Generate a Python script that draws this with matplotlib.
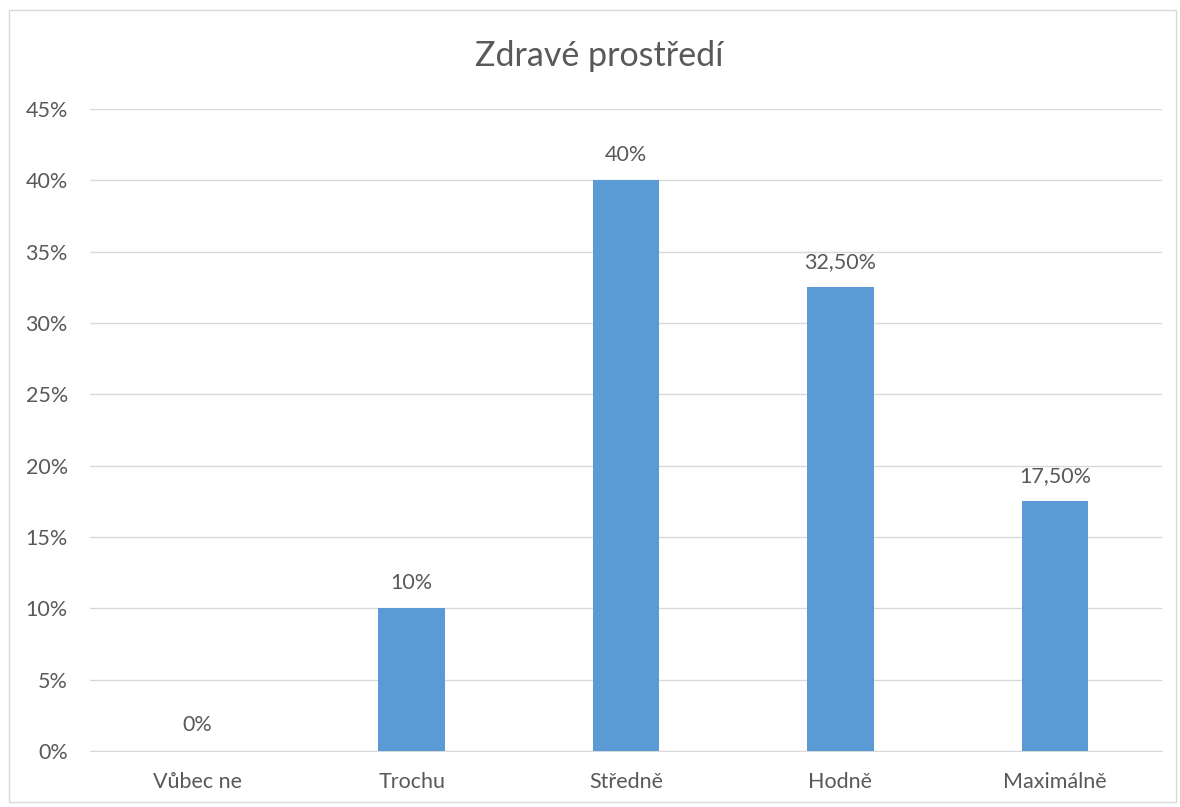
import matplotlib.pyplot as plt
from matplotlib.patches import Rectangle

# data
categories = ["Vůbec ne", "Trochu", "Středně", "Hodně", "Maximálně"]
values = [0, 10, 40, 32.5, 17.5]
value_labels = ["0%", "10%", "40%", "32,50%", "17,50%"]
y_ticks = [0, 5, 10, 15, 20, 25, 30, 35, 40, 45]

plt.rcParams["font.family"] = ["Lato", "DejaVu Sans"]
text_color = "#595959"

fig = plt.figure(figsize=(11.8, 8.07), dpi=100)
ax = fig.add_axes([0.0763, 0.0694, 0.9085, 0.7955])

x = list(range(len(categories)))
ax.bar(x, values, width=0.31, color="#5B9BD5", zorder=3)

for xi, v, lab in zip(x, values, value_labels):
    ax.text(xi, v + 1.1, lab, ha="center", va="bottom", fontsize=15.5, color=text_color)

ax.set_xlim(-0.5, len(categories) - 0.5)
ax.set_ylim(0, 45)
ax.set_yticks(y_ticks)
ax.set_yticklabels([f"{t}%" for t in y_ticks])
ax.set_xticks(x)
ax.set_xticklabels(categories)
ax.tick_params(axis="both", length=0, labelsize=15.5, colors=text_color)
ax.tick_params(axis="y", pad=16)
ax.tick_params(axis="x", pad=15)

ax.grid(axis="y", color="#D9D9D9", linewidth=1, zorder=0)
for side in ["top", "right", "left"]:
    ax.spines[side].set_visible(False)
ax.spines["bottom"].set_color("#D9D9D9")

fig.text(0.508, 0.931, "Zdravé prostředí", ha="center", va="center", fontsize=24.5, color=text_color)

# light frame around the chart area
fig.patches.append(Rectangle((0.008, 0.006), 0.989, 0.982, transform=fig.transFigure,
                             fill=False, edgecolor="#D9D9D9", linewidth=1))

fig.savefig("out.png", dpi=100)
